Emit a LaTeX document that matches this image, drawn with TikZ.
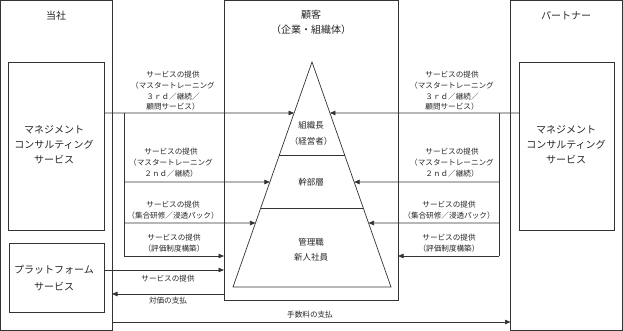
\documentclass[tikz,border=0pt]{standalone}
\usepackage{fontspec}
\newfontfamily\jp{Noto Sans CJK JP}
\usetikzlibrary{arrows.meta,calc}
\tikzset{
  frame/.style={draw=black!80, line width=0.7pt, inner sep=0pt, outer sep=0pt, anchor=north west},
  conn/.style={draw=black!80, line width=0.7pt},
  arr/.style={conn, -{Triangle[length=5.5pt,width=4.5pt]}},
  small/.style={font=\jp\fontsize{7.6}{10.7}\selectfont, align=center, inner sep=0pt, text=black!85},
  big/.style={font=\jp\fontsize{10}{15}\selectfont, align=center, inner sep=0pt, text=black!85},
  mid/.style={font=\jp\fontsize{8.5}{16}\selectfont, align=center, inner sep=0pt, text=black!85},
}
\begin{document}
\begin{tikzpicture}[x=1pt,y=-1pt]
\useasboundingbox (0,0) rectangle (623,331);
\fill[white] (0,0) rectangle (623,331);
% outer boxes
\node[frame, minimum width=111.5pt, minimum height=329.5pt] (tosha) at (0.5,0.5) {};
\node[frame, minimum width=112pt, minimum height=329.5pt] (partner) at (510.5,0.5) {};
\node[frame, minimum width=174pt, minimum height=299.5pt] (cust) at (224,0.5) {};
% inner boxes
\node[frame, minimum width=96pt, minimum height=168pt] (lmc) at (8,62) {};
\node[frame, minimum width=95pt, minimum height=168pt] (rmc) at (519,62) {};
\node[frame, minimum width=95pt, minimum height=69pt] (plat) at (9,243) {};
% titles
\node[big] (t1) at (56,16) {当社};
\node[big] (t2) at (566,16) {パートナー};
\node[big] (t3) at (311,22.5) {顧客\\（企業・組織体）};
\node[big] (lmct) at (54,145) {マネジメント\\コンサルティング\\サービス};
\node[big] (rmct) at (566,145) {マネジメント\\コンサルティング\\サービス};
\node[big, font=\jp\fontsize{10}{17}\selectfont] (platt) at (54,278.5) {プラットフォーム\\サービス};
% pyramid
\coordinate (apex) at (312,62);
\coordinate (bl) at (233,287);
\coordinate (br) at (391,287);
\draw[conn] (apex) -- (bl) -- (br) -- cycle;
\coordinate (d1l) at ($(apex)!0.41333!(bl)$);
\coordinate (d1r) at ($(apex)!0.41333!(br)$);
\coordinate (d2l) at ($(apex)!0.64889!(bl)$);
\coordinate (d2r) at ($(apex)!0.64889!(br)$);
\draw[conn] (d1l) -- (d1r);
\draw[conn] (d2l) -- (d2r);
\node[mid] (p1) at (311,133.5) {組織長\\（経営者）};
\node[mid] (p2) at (311,182) {幹部層};
\node[mid, font=\jp\fontsize{8.5}{15}\selectfont] (p3) at (311,249.5) {管理職\\新人社員};
% arrow targets on pyramid
\coordinate (pl3) at ($(apex)!0.22667!(bl)$);
\coordinate (pr3) at ($(apex)!0.22667!(br)$);
\coordinate (pl2) at ($(apex)!0.53333!(bl)$);
\coordinate (pr2) at ($(apex)!0.53333!(br)$);
\coordinate (pl1) at ($(apex)!0.71556!(bl)$);
\coordinate (pr1) at ($(apex)!0.71556!(br)$);
% rows
\coordinate (ya) at (0,113);
\coordinate (yb) at (0,182);
\coordinate (yc) at (0,223);
\coordinate (yd) at (0,256);
\coordinate (ye) at (0,270);
\coordinate (yf) at (0,294);
\coordinate (yg) at (0,322);
% left side connectors
\coordinate (lja) at (124,113);
\coordinate (ljd) at (124,256);
\draw[arr] (lmc.east |- ya) -- (pl3);
\draw[conn] (lja) -- (ljd);
\draw[arr] (lja |- yb) -- (pl2);
\draw[arr] (lja |- yc) -- (pl1);
\draw[arr] (ljd) -- (cust.west |- yd);
% right side connectors
\coordinate (rja) at (499,113);
\coordinate (rjd) at (499,256);
\draw[arr] (rmc.west |- ya) -- (pr3);
\draw[conn] (rja) -- (rjd);
\draw[arr] (rja |- yb) -- (pr2);
\draw[arr] (rja |- yc) -- (pr1);
\draw[arr] (rjd) -- (cust.east |- yd);
% bottom connectors
\draw[arr] (plat.east |- ye) -- (cust.west |- ye);
\draw[arr] (cust.west |- yf) -- (tosha.east |- yf);
\draw[arr] (tosha.east |- yg) -- (partner.west |- yg);
% labels left
\node[small] (la) at (173,91) {サービスの提供\\（マスタートレーニング\\３ｒｄ／継続／\\顧問サービス）};
\node[small] (lb) at (171,162.5) {サービスの提供\\（マスタートレーニング\\２ｎｄ／継続）};
\node[small] (lc) at (173,210) {サービスの提供\\（集合研修／浸透パック）};
\node[small] (ld) at (174,243) {サービスの提供\\（評価制度構築）};
\node[small] (le) at (168,278.5) {サービスの提供};
\node[small] (lf) at (168,301) {対価の支払};
\node[small] (lg) at (310,315) {手数料の支払};
% labels right
\node[small] (ra) at (452,91) {サービスの提供\\（マスタートレーニング\\３ｒｄ／継続／\\顧問サービス）};
\node[small] (rb) at (452,162.5) {サービスの提供\\（マスタートレーニング\\２ｎｄ／継続）};
\node[small] (rc) at (449,210) {サービスの提供\\（集合研修／浸透パック）};
\node[small] (rd) at (449,243) {サービスの提供\\（評価制度構築）};
\end{tikzpicture}
\end{document}
